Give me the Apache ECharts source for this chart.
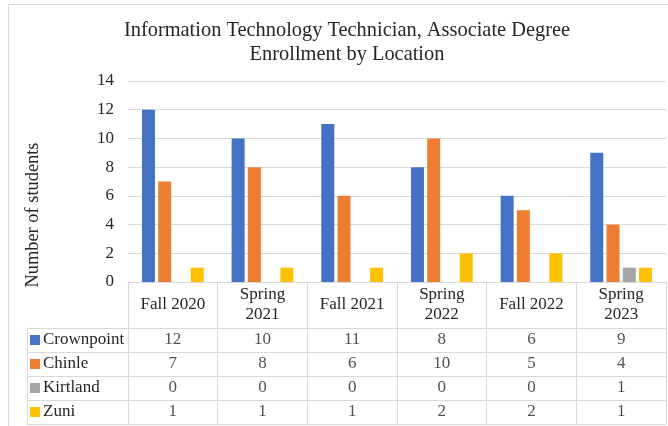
<!DOCTYPE html>
<html>
<head>
<meta charset="utf-8">
<script src="https://cdn.jsdelivr.net/npm/echarts@6/dist/echarts.min.js"></script>
<style>
html,body{margin:0;padding:0;background:#fff;}
#chart{width:668px;height:426px;}
</style>
</head>
<body>
<div id="chart"></div>
<script>
var categories = ['Fall 2020', 'Spring 2021', 'Fall 2021', 'Spring 2022', 'Fall 2022', 'Spring 2023'];
var seriesNames = ['Crownpoint', 'Chinle', 'Kirtland', 'Zuni'];
var crownpoint = [12, 10, 11, 8, 6, 9];
var chinle = [7, 8, 6, 10, 5, 4];
var kirtland = [0, 0, 0, 0, 0, 1];
var zuni = [1, 1, 1, 2, 2, 1];
var yTicks = [0, 2, 4, 6, 8, 10, 12, 14];
var colors = ['#4472C4', '#ED7D31', '#A5A5A5', '#FFC000'];

var seriesValues = [crownpoint, chinle, kirtland, zuni];
var FONT = 'Liberation Serif';
var LINE = '#d9d9d9';
var TXT = '#262626';
var FS = 17;

var tableData = [];
seriesValues.forEach(function (vals, s) {
  vals.forEach(function (v, i) { tableData.push([i, s, v]); });
});

var rich = {};
seriesNames.forEach(function (n, i) {
  rich['sq' + i] = { width: 10, height: 10, backgroundColor: colors[i] };
});

var chart = echarts.init(document.getElementById('chart'), null, { renderer: 'canvas' });
var barSeries = seriesNames.map(function (n, i) {
  return {
    name: n, type: 'bar', xAxisIndex: 0, yAxisIndex: 0,
    data: seriesValues[i], barWidth: 13, barGap: '25%',
    itemStyle: { color: colors[i] }, silent: true
  };
});

chart.setOption({
  animation: false,
  backgroundColor: '#fff',
  textStyle: { fontFamily: FONT },
  title: {
    text: 'Information Technology Technician, Associate Degree\nEnrollment by Location',
    left: 342, top: 14, textAlign: 'center',
    textStyle: { fontFamily: FONT, fontSize: 20.4, fontWeight: 'normal', color: TXT, lineHeight: 24 }
  },
  graphic: [
    { type: 'rect', shape: { x: 8.5, y: 4.5, width: 700, height: 500 }, style: { fill: 'none', stroke: LINE, lineWidth: 1 }, silent: true },
    { type: 'text', x: 33, y: 215, rotation: Math.PI / 2,
      style: { text: 'Number of students', fontFamily: FONT, fontSize: 18.4, fill: TXT, textAlign: 'center', textVerticalAlign: 'middle' } }
  ],
  grid: [
    { left: 128, right: 2, top: 81, height: 201 },
    { left: 128, right: 2, top: 328, height: 96 }
  ],
  xAxis: [
    {
      gridIndex: 0, type: 'category', data: categories,
      axisLine: { show: true, lineStyle: { color: LINE, width: 1 } },
      axisTick: { show: true, length: 46, lineStyle: { color: LINE, width: 1 } },
      axisLabel: {
        margin: 23, verticalAlign: 'middle', fontFamily: FONT, fontSize: FS, color: TXT, lineHeight: 20,
        formatter: function (v) { return v.replace('Spring ', 'Spring\n'); }
      },
      splitLine: { show: false }
    },
    {
      gridIndex: 1, type: 'category', data: categories, position: 'top',
      axisLine: { show: true, lineStyle: { color: LINE, width: 1 } },
      axisTick: { show: false }, axisLabel: { show: false },
      splitLine: { show: true, showMinLine: true, showMaxLine: true, lineStyle: { color: LINE, width: 1 } }
    }
  ],
  yAxis: [
    {
      gridIndex: 0, type: 'value', min: 0, max: 14, interval: 2,
      axisLine: { show: false }, axisTick: { show: false },
      axisLabel: { margin: 14, fontFamily: FONT, fontSize: FS, color: TXT,
        formatter: function (v) { return yTicks.indexOf(v) >= 0 ? String(v) : ''; } },
      splitLine: { show: true, lineStyle: { color: LINE, width: 1 } }
    },
    {
      gridIndex: 1, type: 'category', data: seriesNames, inverse: true,
      axisLine: { show: true, lineStyle: { color: LINE, width: 1 } },
      axisTick: { show: true, length: 101, lineStyle: { color: LINE, width: 1 } },
      axisLabel: { show: false },
      splitLine: { show: true, showMinLine: true, showMaxLine: true, lineStyle: { color: LINE, width: 1 } }
    },
    {
      gridIndex: 1, type: 'category', data: seriesNames, inverse: true, position: 'left', offset: 101,
      axisLine: { show: true, lineStyle: { color: LINE, width: 1 } },
      axisTick: { show: false }, splitLine: { show: false },
      axisLabel: {
        inside: true, margin: 3, align: 'left', verticalAlign: 'middle',
        formatter: function (v) { return '{sq' + seriesNames.indexOf(v) + '|}'; },
        rich: rich
      }
    }
  ],
  series: barSeries.concat([
    {
      type: 'scatter', xAxisIndex: 1, yAxisIndex: 1, data: tableData,
      symbolSize: 1, itemStyle: { color: 'transparent' }, silent: true,
      label: { show: true, position: 'inside', fontFamily: FONT, fontSize: FS, color: TXT,
        formatter: function (p) { return String(p.value[2]); } }
    }
  ])
});

// Row-name texts placed at the table rows' positions given by the table's y axis
var nameTexts = seriesNames.map(function (n, i) {
  var y = chart.convertToPixel({ yAxisIndex: 1 }, i);
  return { type: 'text', x: 43, y: y,
    style: { text: n, fontFamily: FONT, fontSize: FS, fill: TXT, textAlign: 'left', textVerticalAlign: 'middle' } };
});
chart.setOption({ graphic: [
  { type: 'rect', shape: { x: 8.5, y: 4.5, width: 700, height: 500 }, style: { fill: 'none', stroke: LINE, lineWidth: 1 }, silent: true },
  { type: 'text', x: 33, y: 215, rotation: Math.PI / 2,
    style: { text: 'Number of students', fontFamily: FONT, fontSize: 18.4, fill: TXT, textAlign: 'center', textVerticalAlign: 'middle' } }
].concat(nameTexts) }, { replaceMerge: ['graphic'] });
</script>
</body>
</html>
